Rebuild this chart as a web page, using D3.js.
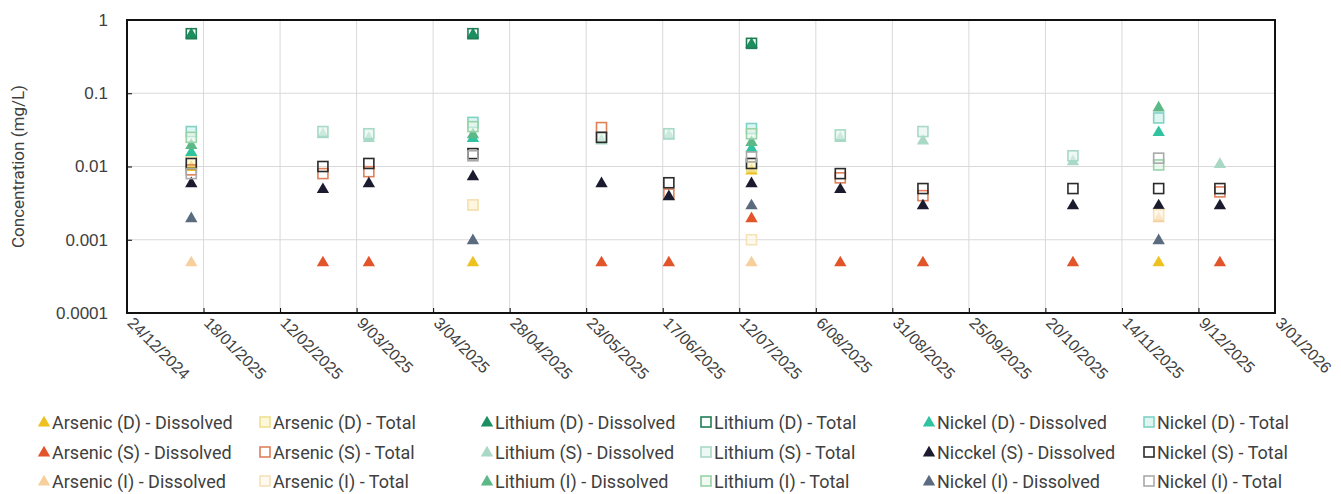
<!DOCTYPE html>
<html lang="en">
<head>
<meta charset="UTF-8">
<title>Concentration (mg/L)</title>
<script src="https://d3js.org/d3.v7.min.js"></script>
<style>
  body { margin: 0; background: #fff; }
  svg { display: block; font-family: "Roboto", "Liberation Sans", sans-serif; }
  .grid line { stroke: #d9d9d9; stroke-width: 1; }
  .axis text { fill: #404040; font-size: 17px; }
  .axis.x text { font-size: 16px; }
  .legend text { fill: #404040; font-size: 18px; }
</style>
</head>
<body>
<div id="chart"></div>
<script>
// sample dates (x positions of the columns of markers)
const sampleDates = ["2025-01-14", "2025-02-26", "2025-03-13", "2025-04-16", "2025-05-28", "2025-06-19",
                     "2025-07-16", "2025-08-14", "2025-09-10", "2025-10-29", "2025-11-26", "2025-12-16"];

// axis ticks
const xStart = "2024-12-24", xEnd = "2026-01-03", xStepDays = 25;
const yTicks = [0.0001, 0.001, 0.01, 0.1, 1];
const yTickLabels = ["0.0001", "0.001", "0.01", "0.1", "1"];

// concentrations (mg/L), one value per sample date, null = not sampled
const arsenicDDis = [0.01, null, null, 0.0005, null, null, 0.009, null, null, null, 0.0005, null];
const arsenicDTot = [0.012, null, null, 0.003, null, null, 0.01, null, null, null, null, null];
const arsenicSDis = [null, 0.0005, 0.0005, null, 0.0005, 0.0005, 0.002, 0.0005, 0.0005, 0.0005, null, 0.0005];
const arsenicSTot = [0.009, 0.008, 0.0085, null, 0.034, 0.0042, null, 0.007, 0.004, null, null, 0.0045];
const arsenicIDis = [0.0005, null, null, null, null, null, 0.0005, null, null, null, 0.002, null];
const arsenicITot = [null, null, null, 0.003, null, null, 0.001, null, null, null, 0.0022, null];
const lithiumDDis = [0.65, null, null, 0.65, null, null, 0.48, null, null, null, null, null];
const lithiumDTot = [0.65, null, null, 0.65, null, null, 0.48, null, null, null, null, null];
const lithiumSDis = [null, 0.028, 0.025, null, 0.023, 0.027, null, 0.025, 0.023, 0.012, null, 0.011];
const lithiumSTot = [null, 0.03, 0.028, null, 0.025, 0.028, null, 0.027, 0.03, 0.014, null, null];
const lithiumIDis = [0.02, null, null, 0.028, null, null, 0.022, null, null, null, 0.065, null];
const lithiumITot = [0.025, null, null, 0.035, null, null, 0.028, null, null, null, 0.0105, null];
const nickelDDis  = [0.016, null, null, 0.025, null, null, 0.018, null, null, null, 0.03, null];
const nickelDTot  = [0.03, null, null, 0.04, null, null, 0.033, null, null, null, 0.046, null];
const nickelSDis  = [0.006, 0.005, 0.006, 0.0075, 0.006, 0.004, 0.006, 0.005, 0.003, 0.003, 0.003, 0.003];
const nickelSTot  = [0.011, 0.01, 0.011, 0.015, 0.025, 0.006, 0.011, 0.008, 0.005, 0.005, 0.005, 0.005];
const nickelIDis  = [0.002, null, null, 0.001, null, null, 0.003, null, null, null, 0.001, null];
const nickelITot  = [0.008, null, null, 0.014, null, null, 0.0135, null, null, null, 0.013, null];

// legend order (row by row, as in the original)
const seriesNames = [
  "Arsenic (D) - Dissolved", "Arsenic (D) - Total", "Lithium (D) - Dissolved", "Lithium (D) - Total", "Nickel (D) - Dissolved", "Nickel (D) - Total",
  "Arsenic (S) - Dissolved", "Arsenic (S) - Total", "Lithium (S) - Dissolved", "Lithium (S) - Total", "Nicckel (S) - Dissolved", "Nickel (S) - Total",
  "Arsenic (I) - Dissolved", "Arsenic (I) - Total", "Lithium (I) - Dissolved", "Lithium (I) - Total", "Nickel (I) - Dissolved", "Nickel (I) - Total"
];
const seriesValues = [
  arsenicDDis, arsenicDTot, lithiumDDis, lithiumDTot, nickelDDis, nickelDTot,
  arsenicSDis, arsenicSTot, lithiumSDis, lithiumSTot, nickelSDis, nickelSTot,
  arsenicIDis, arsenicITot, lithiumIDis, lithiumITot, nickelIDis, nickelITot
];

// styles: triangle = dissolved, square = total
const seriesColors = [
  "#eec21e", "#efe08f", "#1b8f5f", "#1f7d55", "#2fc49f", "#7fd2c4",
  "#e2542a", "#e0805a", "#a9d9c6", "#a6dac6", "#1b1b2f", "#2b2b2b",
  "#f6cf9c", "#f6e2b8", "#5cb886", "#97d3a6", "#5a6b80", "#a9a9a9"
];
const squareFills = [
  null, "#fbf3c0", null, "none", null, "#c9efea",
  null, "none", null, "#e3f4ec", null, "none",
  null, "#fff6e4", null, "#e6f5ea", null, "none"
];

const W = 1341, H = 494;
const margin = { top: 20, right: 66, bottom: 181, left: 127 };

const svg = d3.select("#chart").append("svg")
  .attr("width", W).attr("height", H);

const parse = d3.utcParse("%Y-%m-%d");
const x = d3.scaleUtc()
  .domain([parse(xStart), parse(xEnd)])
  .range([margin.left, W - margin.right]);
const y = d3.scaleLog()
  .domain([yTicks[0], yTicks[yTicks.length - 1]])
  .range([H - margin.bottom, margin.top]);

const xTicks = d3.range(0, 16).map(i => d3.utcDay.offset(parse(xStart), i * xStepDays));

// gridlines
const grid = svg.append("g").attr("class", "grid");
grid.selectAll(".v").data(xTicks).join("line")
  .attr("x1", d => x(d)).attr("x2", d => x(d))
  .attr("y1", y.range()[1]).attr("y2", y.range()[0]);
grid.selectAll(".h").data(yTicks).join("line")
  .attr("x1", x.range()[0]).attr("x2", x.range()[1])
  .attr("y1", d => y(d)).attr("y2", d => y(d));

// axes
svg.append("g").attr("class", "axis y")
  .attr("transform", `translate(${margin.left},0)`)
  .call(d3.axisLeft(y).tickValues(yTicks).tickSizeInner(-5).tickSizeOuter(0).tickPadding(19)
    .tickFormat((d, i) => yTickLabels[i]));

const fmt = d3.utcFormat("%-d/%m/%Y");
const xAxis = svg.append("g").attr("class", "axis x")
  .attr("transform", `translate(0,${H - margin.bottom})`)
  .call(d3.axisBottom(x).tickValues(xTicks).tickSizeInner(-5).tickSizeOuter(0).tickFormat(fmt));
xAxis.selectAll("text")
  .attr("x", 0).attr("y", 0).attr("dy", 0)
  .attr("text-anchor", "start")
  .attr("transform", "translate(-1,11) rotate(45)");

svg.selectAll(".axis .tick line").attr("stroke", "#000");
svg.selectAll(".axis .domain").remove();

// plot frame
svg.append("rect")
  .attr("x", x.range()[0]).attr("y", y.range()[1])
  .attr("width", x.range()[1] - x.range()[0])
  .attr("height", y.range()[0] - y.range()[1])
  .attr("fill", "none").attr("stroke", "#111").attr("stroke-width", 2);

// y title
svg.append("text")
  .attr("transform", `translate(24,${(y.range()[0] + y.range()[1]) / 2}) rotate(-90)`)
  .attr("text-anchor", "middle")
  .attr("fill", "#404040").style("font-size", "17px")
  .text("Concentration (mg/L)");

const tri = d3.symbol().type(d3.symbolTriangle).size(66);

function drawMarker(g, i, cx, cy) {
  if (i % 2 === 0) {
    g.append("path")
      .attr("d", tri())
      .attr("transform", `translate(${cx},${cy + 1})`)
      .attr("fill", seriesColors[i]);
  } else {
    g.append("rect")
      .attr("x", cx - 5).attr("y", cy - 5)
      .attr("width", 10).attr("height", 10)
      .attr("fill", squareFills[i])
      .attr("fill-opacity", 0.6)
      .attr("stroke", seriesColors[i]).attr("stroke-width", 1.6);
  }
}

// markers
const marks = svg.append("g");
seriesValues.forEach((vals, i) => {
  vals.forEach((v, j) => {
    if (v == null) return;
    drawMarker(marks, i, x(parse(sampleDates[j])), y(v));
  });
});

// legend
const legendX = [52, 273, 495, 714, 937, 1157];
const legendY = [423, 453, 482];
const legend = svg.append("g").attr("class", "legend");
seriesNames.forEach((name, i) => {
  const col = i % 6, row = Math.floor(i / 6);
  const tx = legendX[col], ty = legendY[row];
  drawMarker(legend, i, tx - 8, ty - 1);
  legend.append("text")
    .attr("x", tx).attr("y", ty + 6)
    .text(name);
});
</script>
</body>
</html>
